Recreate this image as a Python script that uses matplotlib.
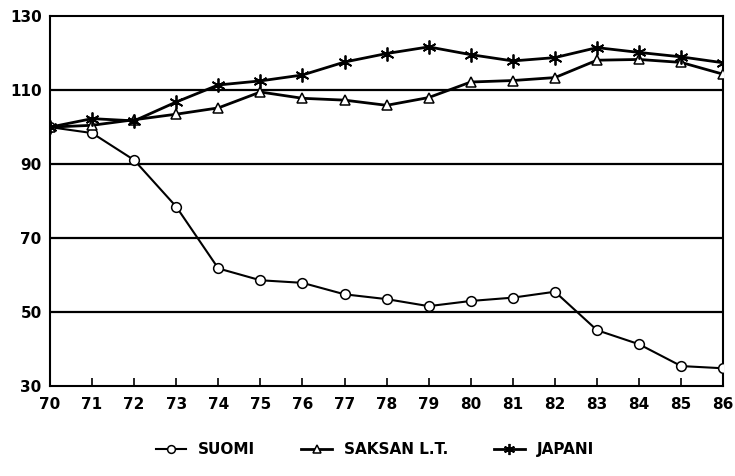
import numpy as np
import matplotlib
matplotlib.use("Agg")
import matplotlib.pyplot as plt

# data (index, 1970 = 100)
years = list(range(70, 87))
suomi = [100, 98.4, 91.1, 78.5, 61.8, 58.6, 57.9, 54.8, 53.5, 51.6,
         53.0, 53.9, 55.5, 45.1, 41.3, 35.4, 34.8]
saksan = [100, 100.5, 102.0, 103.5, 105.2, 109.5, 107.8, 107.3, 105.9, 108.0,
          112.2, 112.6, 113.4, 118.1, 118.3, 117.5, 114.3]
japani = [100, 102.3, 101.7, 106.8, 111.4, 112.5, 114.1, 117.6, 119.9, 121.7,
          119.6, 117.9, 118.8, 121.5, 120.2, 119.0, 117.4]
labels = ["SUOMI", "SAKSAN L.T.", "JAPANI"]
yticks = [30, 50, 70, 90, 110, 130]

plt.rcParams['font.family'] = ['DejaVu Sans']
plt.rcParams['font.weight'] = 'bold'

fig = plt.figure(figsize=(7.35, 4.76), dpi=100)
ax = fig.add_axes([0.068, 0.189, 0.916, 0.777])

# horizontal grid lines (not at the frame)
for g in yticks[1:-1]:
    ax.axhline(g, color="black", lw=1.6, zorder=1)

ax.plot(years, suomi, color="black", lw=1.5, marker="o", ms=7,
        mfc="white", mec="black", mew=1.1, label=labels[0], zorder=3)
ax.plot(years, saksan, color="black", lw=2.0, marker="^", ms=7,
        mfc="white", mec="black", mew=1.1, label=labels[1], zorder=3)
ax.plot(years, japani, color="black", lw=2.0, marker=(6, 2, 0), ms=10,
        mec="black", mew=1.3, label=labels[2], zorder=4)

ax.set_xlim(70, 86)
ax.set_ylim(30, 130)
ax.set_xticks(years)
ax.set_yticks(yticks)
ax.tick_params(axis="x", direction="in", length=6, width=1.2, labelsize=11, pad=8)
ax.tick_params(axis="y", length=0, labelsize=11, pad=6)
for lab in ax.get_xticklabels() + ax.get_yticklabels():
    lab.set_fontweight("bold")
for s in ax.spines.values():
    s.set_linewidth(1.5)

fig.legend(loc="center", bbox_to_anchor=(0.51, 0.055), ncol=3,
           frameon=False, handlelength=2.0, columnspacing=3.0,
           prop={"weight": "bold", "size": 11}, markerscale=0.8)

fig.savefig("out.png", dpi=100)
